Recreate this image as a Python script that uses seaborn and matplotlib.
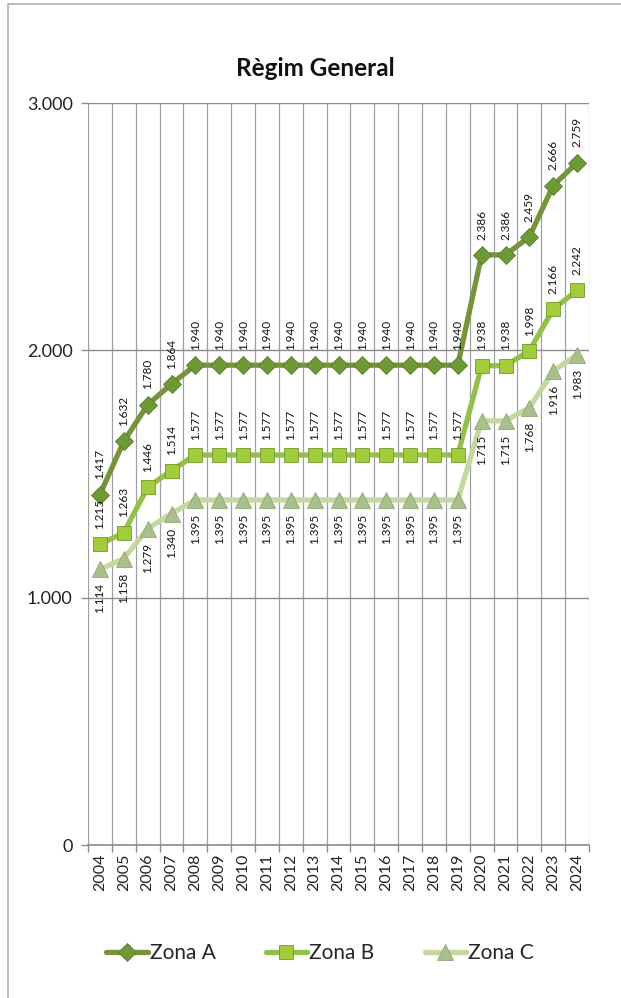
import matplotlib
matplotlib.use("Agg")
import matplotlib.pyplot as plt
import matplotlib.ticker as mticker
from matplotlib.patches import Rectangle
import pandas as pd
import seaborn as sns

# data
years = list(range(2004, 2025))
zona_a = [1417, 1632, 1780, 1864, 1940, 1940, 1940, 1940, 1940, 1940, 1940,
          1940, 1940, 1940, 1940, 1940, 2386, 2386, 2459, 2666, 2759]
zona_b = [1215, 1263, 1446, 1514, 1577, 1577, 1577, 1577, 1577, 1577, 1577,
          1577, 1577, 1577, 1577, 1577, 1938, 1938, 1998, 2166, 2242]
zona_c = [1114, 1158, 1279, 1340, 1395, 1395, 1395, 1395, 1395, 1395, 1395,
          1395, 1395, 1395, 1395, 1395, 1715, 1715, 1768, 1916, 1983]
series_names = ["Zona A", "Zona B", "Zona C"]
y_ticks = [0, 1000, 2000, 3000]

sns.set_theme(style="white")
plt.rcParams["font.family"] = ["Lato", "DejaVu Sans"]

df = pd.DataFrame({"year": years, "Zona A": zona_a, "Zona B": zona_b, "Zona C": zona_c})

fig = plt.figure(figsize=(6.21, 9.98), dpi=100)
# outer chart frame
fig.patches.append(Rectangle((8 / 621, -0.05), 1.1, 1 - 4 / 998 + 0.05,
                             transform=fig.transFigure, fill=False,
                             edgecolor="#b0b0b0", linewidth=1.2))
ax = fig.add_axes([88 / 621, 1 - 845 / 998, 501 / 621, 742 / 998])

styles = {
    "Zona A": dict(color="#77933c", marker="D", ms=9.5, mfc="#6e9a36", mec="#5a7a2a"),
    "Zona B": dict(color="#92c04a", marker="s", ms=10.5, mfc="#a3cc3c", mec="#6f9a2a"),
    "Zona C": dict(color="#c4d7a0", marker="^", ms=11, mfc="#a9bf8c", mec="#8fa672"),
}

handles = {}
for name in ["Zona C", "Zona B", "Zona A"]:
    st = styles[name]
    sns.lineplot(data=df, x="year", y=name, ax=ax, color=st["color"], linewidth=3.8,
                 marker=st["marker"], markersize=st["ms"], markerfacecolor=st["mfc"],
                 markeredgecolor=st["mec"], markeredgewidth=0.6, zorder=3)
    handles[name] = ax.lines[-1]

# data labels, rotated
for name in series_names:
    below = name == "Zona C"
    for x, v in zip(df["year"], df[name]):
        lbl = f"{v:,}".replace(",", ".")
        ax.annotate(lbl, (x, v), xytext=(0, -10 if below else 11), textcoords="offset points",
                    rotation=90, ha="center", va="top" if below else "bottom",
                    fontsize=8.5, color="#111111", zorder=4)

ax.set_xlim(years[0] - 0.5, years[-1] + 0.5)
ax.set_ylim(0, 3000)
ax.set_xticks(years)
ax.set_xticklabels([str(y) for y in years], rotation=90, fontsize=11.5, color="#222222")
ax.set_xticks([y - 0.5 for y in years] + [years[-1] + 0.5], minor=True)
ax.set_yticks(y_ticks)
ax.yaxis.set_major_formatter(mticker.FuncFormatter(lambda v, p: f"{int(v):,}".replace(",", ".")))
ax.tick_params(axis="y", labelsize=13, colors="#222222", length=5, width=1,
               color="#8c8c8c", left=True, pad=6)
ax.tick_params(axis="x", which="major", length=0, pad=6)
ax.tick_params(axis="x", which="minor", length=5, width=1, color="#8c8c8c", bottom=True)
ax.grid(False)
ax.grid(True, axis="y", which="major", color="#8c8c8c", linewidth=1)
ax.grid(True, axis="x", which="minor", color="#a0a0a0", linewidth=0.9)
ax.set_xlabel("")
ax.set_ylabel("")
for s in ["top", "right"]:
    ax.spines[s].set_visible(False)
ax.spines["left"].set_visible(False)
ax.spines["bottom"].set_color("#8c8c8c")
ax.spines["bottom"].set_linewidth(1.2)

fig.text(315 / 621, 1 - 69 / 998, "Règim General", ha="center", va="center",
         fontsize=17.5, fontweight="bold", color="#111111")

fig.legend([handles[n] for n in series_names], series_names, loc="center",
           bbox_to_anchor=(320 / 621, 1 - 953 / 998), ncol=3, frameon=False,
           fontsize=15, handlelength=2.0, handletextpad=0.1, columnspacing=2.4)

fig.savefig("out.png", dpi=100, facecolor="white")
